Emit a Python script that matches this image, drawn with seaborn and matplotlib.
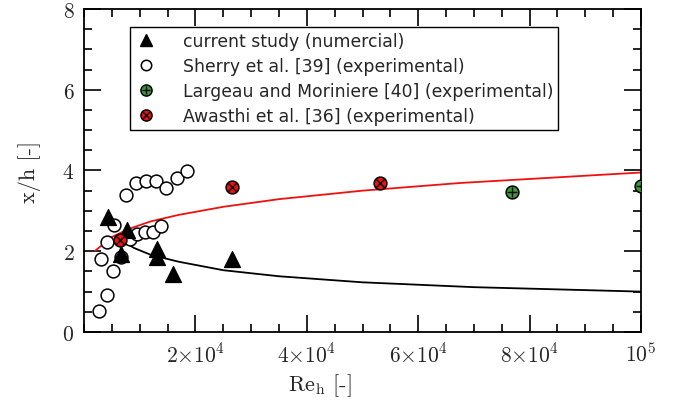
import numpy as np
import pandas as pd
import matplotlib
matplotlib.use("Agg")
import matplotlib.pyplot as plt
import seaborn as sns
from matplotlib.ticker import FixedLocator, MultipleLocator, FuncFormatter
from matplotlib.lines import Line2D

# ---------------- data ----------------
study_re = [4360, 7660, 6590, 13160, 13160, 16030, 26510]
study_xh = [2.86, 2.53, 1.93, 2.05, 1.85, 1.44, 1.81]

sherry_re = [2750, 4070, 3000, 5260, 4180, 5440, 6640, 7480, 9280, 11070, 12920,
             14720, 16640, 18430, 8260, 9570, 10950, 12330, 13770]
sherry_xh = [0.51, 0.92, 1.81, 1.52, 2.24, 2.65, 1.86, 3.40, 3.68, 3.73, 3.75,
             3.56, 3.81, 3.99, 2.30, 2.43, 2.47, 2.48, 2.63]

largeau_re = [76880, 100000]
largeau_xh = [3.47, 3.61]

awasthi_re = [6460, 26510, 53130]
awasthi_xh = [2.28, 3.58, 3.68]

# correlation curves, points
red_curve_re = [2000, 5000, 8000, 12000, 17000, 25000, 35000, 50000, 67500, 85000, 100000]
red_curve_xh = [2.01, 2.35, 2.55, 2.74, 2.90, 3.10, 3.29, 3.50, 3.69, 3.83, 3.95]

black_curve_re = [7300, 9000, 12000, 17000, 25000, 35000, 50000, 70000, 100000]
black_curve_xh = [2.22, 2.08, 1.91, 1.74, 1.53, 1.38, 1.23, 1.11, 1.00]

x_major = [20000, 40000, 60000, 80000, 100000]
x_major_labels = [r"$2{\times}10^4$", r"$4{\times}10^4$", r"$6{\times}10^4$",
                  r"$8{\times}10^4$", r"$10^5$"]
y_major = [0, 2, 4, 6, 8]

legend_labels = ["current study (numercial)",
                 "Sherry et al. [39] (experimental)",
                 "Largeau and Moriniere [40] (experimental)",
                 "Awasthi et al. [36] (experimental)"]

GREEN = "#3c9a3c"
RED = "#f01010"

# ---------------- plotting ----------------
sns.set_style("ticks")
plt.rcParams["mathtext.fontset"] = "cm"
plt.rcParams["font.family"] = ["DejaVu Sans"]

fig = plt.figure(figsize=(6.73, 4.14), dpi=100)
ax = fig.add_axes([0.1248, 0.1957, 0.8277, 0.7802])

sns.lineplot(x=red_curve_re, y=red_curve_xh, color=RED, lw=1.3, ax=ax,
             estimator=None, zorder=2)
sns.lineplot(x=black_curve_re, y=black_curve_xh, color="black", lw=1.3, ax=ax,
             estimator=None, zorder=2)

sns.scatterplot(x=sherry_re, y=sherry_xh, marker="o", s=85, color="white",
                edgecolor="black", linewidth=1.1, ax=ax, zorder=3)
sns.scatterplot(x=study_re, y=study_xh, marker="^", s=135, color="black",
                edgecolor="black", linewidth=0.8, ax=ax, zorder=4)
sns.scatterplot(x=awasthi_re, y=awasthi_xh, marker="o", s=85, color=RED,
                edgecolor="black", linewidth=1.1, ax=ax, zorder=5)
sns.scatterplot(x=awasthi_re, y=awasthi_xh, marker="x", s=40, color="black",
                linewidth=1.0, ax=ax, zorder=6)
sns.scatterplot(x=largeau_re, y=largeau_xh, marker="o", s=85, color=GREEN,
                edgecolor="black", linewidth=1.1, ax=ax, zorder=5)
sns.scatterplot(x=largeau_re, y=largeau_xh, marker="+", s=55, color="black",
                linewidth=1.0, ax=ax, zorder=6)

ax.set_xlim(0, 100000)
ax.set_ylim(0, 8)
ax.xaxis.set_major_locator(FixedLocator(x_major))
ax.set_xticklabels(x_major_labels)
ax.xaxis.set_minor_locator(MultipleLocator(5000))
ax.yaxis.set_major_locator(FixedLocator(y_major))
ax.yaxis.set_major_formatter(FuncFormatter(lambda v, p: r"$%d$" % v))
ax.yaxis.set_minor_locator(MultipleLocator(0.5))

ax.tick_params(which="both", direction="in", top=True, right=True,
               color="black", width=1.2)
ax.tick_params(which="major", length=12, labelsize=15.5, pad=7)
ax.tick_params(which="minor", length=6)
for sp in ax.spines.values():
    sp.set_linewidth(1.3)
    sp.set_color("black")

ax.set_xlabel("Re$_\\mathrm{h}$ [-]", fontfamily="cmr10", fontsize=16)
ax.set_ylabel("x/h [-]", fontfamily="cmr10", fontsize=16)
ax.xaxis.set_label_coords(0.424, -0.123)
ax.yaxis.set_label_coords(-0.078, 0.5)

h1 = Line2D([], [], marker="^", color="black", ls="", markersize=9)
h2 = Line2D([], [], marker="o", mfc="white", mec="black", ls="", markersize=7.5, mew=1.1)
h3 = (Line2D([], [], marker="o", mfc=GREEN, mec="black", ls="", markersize=8, mew=1.1),
      Line2D([], [], marker="+", color="black", ls="", markersize=6, mew=1.0))
h4 = (Line2D([], [], marker="o", mfc=RED, mec="black", ls="", markersize=8, mew=1.1),
      Line2D([], [], marker="x", color="black", ls="", markersize=4.5, mew=1.0))
leg = ax.legend([h1, h2, h3, h4], legend_labels, loc="upper left",
                bbox_to_anchor=(0.0826, 0.944), borderaxespad=0,
                fancybox=False, framealpha=1, edgecolor="black",
                fontsize=12.4, handlelength=1.3, handletextpad=1.45,
                labelspacing=0.40, borderpad=0.3)
leg.get_frame().set_linewidth(1.0)
leg.set_zorder(10)

fig.savefig("out.png", dpi=100)
